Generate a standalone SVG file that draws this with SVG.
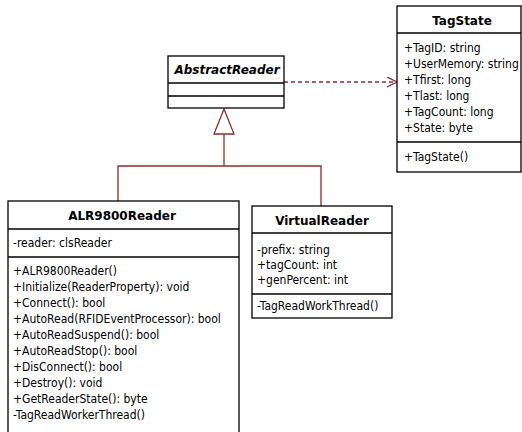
<svg xmlns="http://www.w3.org/2000/svg" width="522" height="432" viewBox="0 0 522 432">
<style>
.box{fill:#fff;stroke:#000;stroke-width:1.3}
.ln{stroke:#000;stroke-width:1.3}
.t{font-family:"DejaVu Sans Condensed","Liberation Sans",sans-serif;font-size:12px;fill:#000}
.h{font-family:"DejaVu Sans","Liberation Sans",sans-serif;font-size:12px;font-weight:bold;fill:#000;text-anchor:middle}
.c{stroke:#8b2e2e;stroke-width:1.3;fill:none}
</style>
<defs>
<marker id="open" markerWidth="12" markerHeight="12" refX="10" refY="5" orient="auto" markerUnits="userSpaceOnUse">
<path d="M0,0 L10,5 L0,10" fill="none" stroke="#8b2e2e" stroke-width="1.3"/>
</marker>
</defs>
<g id="connectors">
<line class="c" x1="284" y1="82" x2="397" y2="82" stroke-dasharray="4,3" marker-end="url(#open)"/>
<polygon class="c" points="224,109 214,134 234,134" fill="#fff"/>
<polyline class="c" points="224,134 224,166"/>
<polyline class="c" points="118,201 118,166 321,166 321,206"/>
</g>
<g id="TagState">
<rect class="box" x="397" y="6" width="124" height="166"/>
<line class="ln" x1="397" y1="33" x2="521" y2="33"/>
<line class="ln" x1="397" y1="142" x2="521" y2="142"/>
<text class="h" x="462" y="25">TagState</text>
<text class="t" x="404" y="52">+TagID: string</text>
<text class="t" x="404" y="68">+UserMemory: string</text>
<text class="t" x="404" y="84">+Tfirst: long</text>
<text class="t" x="404" y="100">+Tlast: long</text>
<text class="t" x="404" y="116">+TagCount: long</text>
<text class="t" x="404" y="132">+State: byte</text>
<text class="t" x="404" y="161">+TagState()</text>
</g>
<g id="AbstractReader">
<rect class="box" x="168" y="56" width="116" height="52"/>
<line class="ln" x1="168" y1="83" x2="284" y2="83"/>
<line class="ln" x1="168" y1="96" x2="284" y2="96"/>
<text class="h" x="227" y="74" font-style="italic">AbstractReader</text>
</g>
<g id="ALR9800Reader">
<rect class="box" x="8" y="201" width="231" height="240"/>
<line class="ln" x1="8" y1="229" x2="239" y2="229"/>
<line class="ln" x1="8" y1="257" x2="239" y2="257"/>
<text class="h" x="122" y="220">ALR9800Reader</text>
<text class="t" x="13" y="247">-reader: clsReader</text>
<text class="t" x="13" y="275">+ALR9800Reader()</text>
<text class="t" x="13" y="291">+Initialize(ReaderProperty): void</text>
<text class="t" x="13" y="307">+Connect(): bool</text>
<text class="t" x="13" y="323">+AutoRead(RFIDEventProcessor): bool</text>
<text class="t" x="13" y="339">+AutoReadSuspend(): bool</text>
<text class="t" x="13" y="355">+AutoReadStop(): bool</text>
<text class="t" x="13" y="371">+DisConnect(): bool</text>
<text class="t" x="13" y="387">+Destroy(): void</text>
<text class="t" x="13" y="403">+GetReaderState(): byte</text>
<text class="t" x="13" y="419">-TagReadWorkerThread()</text>
</g>
<g id="VirtualReader">
<rect class="box" x="252" y="206" width="140" height="112"/>
<line class="ln" x1="252" y1="233" x2="392" y2="233"/>
<line class="ln" x1="252" y1="294" x2="392" y2="294"/>
<text class="h" x="322" y="225">VirtualReader</text>
<text class="t" x="257" y="254">-prefix: string</text>
<text class="t" x="257" y="269">+tagCount: int</text>
<text class="t" x="257" y="284">+genPercent: int</text>
<text class="t" x="257" y="310">-TagReadWorkThread()</text>
</g>
</svg>
